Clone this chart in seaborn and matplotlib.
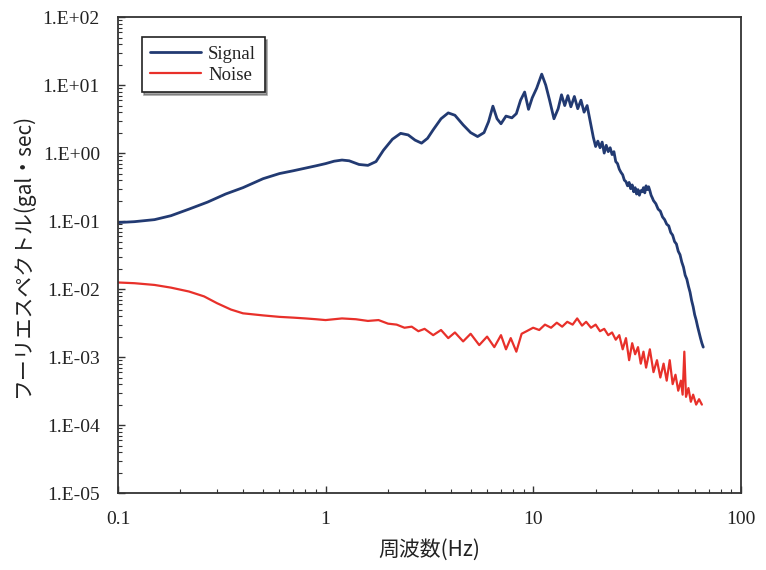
import numpy as np
import matplotlib
matplotlib.use("Agg")
import matplotlib.pyplot as plt
import pandas as pd
import seaborn as sns
from matplotlib.ticker import LogLocator, FixedLocator, FixedFormatter, NullFormatter

# Signal spectrum
signal_freq = [0.1, 0.12, 0.15, 0.18, 0.22, 0.27, 0.33, 0.4, 0.5, 0.6, 0.7, 0.8, 0.9, 1.0,
               1.1, 1.2, 1.3, 1.45, 1.6, 1.75, 1.9, 2.1, 2.3, 2.5, 2.7, 2.9, 3.1, 3.3, 3.6,
               3.9, 4.2, 4.6, 5.0, 5.4, 5.8, 6.1, 6.4, 6.7, 7.0, 7.4, 7.9, 8.3, 8.7, 9.1,
               9.5, 9.9, 10.4, 11.0, 11.5, 12.0, 12.6, 13.2, 13.7, 14.2, 14.7, 15.2, 15.8,
               16.4, 17.0, 17.6, 18.2, 18.8, 19.5, 20.0, 20.5, 21.0, 21.5, 22.0, 22.5, 23.0,
               23.5, 24.0, 24.5, 25.0, 25.5, 26.0, 26.5, 27.0, 27.5, 28.0, 28.5, 29.0, 29.5,
               30.0, 30.5, 31.0, 31.5, 32.0, 32.5, 33.0, 33.5, 34.0, 34.5, 35.0, 35.5, 36.0,
               36.5, 37.0, 37.5, 38.0, 39.0, 40.0, 41.0, 42.0, 43.0, 44.0, 45.0, 46.0, 47.0,
               48.0, 49.0, 50.0, 51.0, 52.0, 53.0, 54.0, 55.0, 56.0, 57.0, 58.0, 59.0, 60.0,
               61.0, 62.0, 63.0, 64.0, 65.0, 66.0]
signal_amp = [0.095, 0.098, 0.105, 0.12, 0.15, 0.19, 0.25, 0.31, 0.42, 0.5, 0.55, 0.6, 0.65, 0.7,
              0.76, 0.79, 0.77, 0.68, 0.66, 0.75, 1.1, 1.6, 1.95, 1.85, 1.55, 1.4, 1.65, 2.2, 3.2,
              3.9, 3.6, 2.6, 2.0, 1.75, 2.0, 2.9, 4.9, 3.2, 2.7, 3.5, 3.3, 3.8, 6.0, 7.9,
              4.4, 6.5, 9.0, 14.5, 10.0, 6.0, 3.2, 4.5, 7.2, 5.0, 7.0, 4.8, 6.8,
              4.5, 6.0, 4.0, 5.0, 3.0, 1.7, 1.25, 1.5, 1.2, 1.45, 1.0, 1.3, 1.05,
              1.2, 0.95, 1.05, 0.75, 0.7, 0.58, 0.52, 0.48, 0.4, 0.38, 0.33, 0.37, 0.30,
              0.34, 0.27, 0.31, 0.25, 0.29, 0.24, 0.28, 0.27, 0.31, 0.26, 0.33, 0.29, 0.32,
              0.28, 0.24, 0.22, 0.2, 0.18, 0.15, 0.14, 0.115, 0.105, 0.09, 0.085, 0.068, 0.062,
              0.05, 0.046, 0.036, 0.032, 0.025, 0.021, 0.016, 0.014, 0.011, 0.009, 0.0068, 0.0055, 0.0042,
              0.0035, 0.0028, 0.0023, 0.0019, 0.0016, 0.0014]

# Noise spectrum
noise_freq = [0.1, 0.12, 0.15, 0.18, 0.22, 0.26, 0.3, 0.35, 0.4, 0.5, 0.6, 0.7, 0.8, 0.9, 1.0,
              1.2, 1.4, 1.6, 1.8, 2.0, 2.2, 2.4, 2.6, 2.8, 3.0, 3.3, 3.6, 3.9, 4.2, 4.6, 5.0,
              5.5, 6.0, 6.5, 7.0, 7.4, 7.8, 8.3, 8.8, 9.3, 10.0, 10.7, 11.4, 12.2, 13.0, 13.8,
              14.6, 15.5, 16.3, 17.2, 18.0, 19.0, 20.0, 21.0, 22.0, 23.0, 24.0, 25.0, 26.0,
              27.0, 28.0, 29.0, 30.0, 31.0, 32.0, 33.0, 34.0, 35.0, 36.5, 38.0, 39.5, 41.0,
              42.5, 44.0, 45.5, 47.0, 48.5, 50.0, 51.5, 52.5, 53.5, 54.5, 56.0, 57.5, 59.0,
              61.0, 63.0, 65.0]
noise_amp = [0.0125, 0.0122, 0.0115, 0.0105, 0.0092, 0.0078, 0.0062, 0.0050, 0.0044, 0.0041,
             0.0039, 0.0038, 0.0037, 0.0036, 0.0035, 0.0037, 0.0036, 0.0034, 0.0035, 0.0031,
             0.0030, 0.0027, 0.0028, 0.0024, 0.0026, 0.0021, 0.0025, 0.0019, 0.0023, 0.0017,
             0.0022, 0.0015, 0.0020, 0.0014, 0.0021, 0.0013, 0.0019, 0.0012, 0.0022, 0.0024,
             0.0027, 0.0025, 0.0030, 0.0027, 0.0032, 0.0028, 0.0033, 0.0030, 0.0037, 0.0029,
             0.0033, 0.0027, 0.0030, 0.0024, 0.0026, 0.0021, 0.0023, 0.0018, 0.0021, 0.0013,
             0.0019, 0.0009, 0.0016, 0.0011, 0.0014, 0.0008, 0.0012, 0.0007, 0.0013, 0.0006,
             0.0009, 0.0005, 0.0008, 0.00045, 0.0009, 0.0004, 0.00055, 0.00032, 0.00045,
             0.00028, 0.0012, 0.00026, 0.00035, 0.00022, 0.00028, 0.0002, 0.00024, 0.0002]

y_ticks = [1e-5, 1e-4, 1e-3, 1e-2, 1e-1, 1e0, 1e1, 1e2]
y_tick_labels = ["1.E-05", "1.E-04", "1.E-03", "1.E-02", "1.E-01", "1.E+00", "1.E+01", "1.E+02"]
x_ticks = [0.1, 1, 10, 100]
x_tick_labels = ["0.1", "1", "10", "100"]

sig_df = pd.DataFrame({"freq": signal_freq, "amp": signal_amp})
noi_df = pd.DataFrame({"freq": noise_freq, "amp": noise_amp})

sns.set_style("ticks")
plt.rcParams["font.family"] = ["Noto Sans CJK JP", "DejaVu Sans"]

fig = plt.figure(figsize=(7.66, 5.70), dpi=100)
ax = fig.add_axes([0.154, 0.135, 0.813, 0.835])

sns.lineplot(data=sig_df, x="freq", y="amp", ax=ax, sort=False, estimator=None,
             color="#223a72", linewidth=2.0, label="Signal")
sns.lineplot(data=noi_df, x="freq", y="amp", ax=ax, sort=False, estimator=None,
             color="#e8302a", linewidth=1.6, label="Noise")

ax.set_xscale("log")
ax.set_yscale("log")
ax.set_xlim(0.1, 100)
ax.set_ylim(1e-5, 1e2)

ax.xaxis.set_major_locator(FixedLocator(x_ticks))
ax.xaxis.set_major_formatter(FixedFormatter(x_tick_labels))
ax.xaxis.set_minor_locator(LogLocator(base=10, subs=np.arange(2, 10), numticks=20))
ax.xaxis.set_minor_formatter(NullFormatter())
ax.yaxis.set_major_locator(FixedLocator(y_ticks))
ax.yaxis.set_major_formatter(FixedFormatter(y_tick_labels))
ax.yaxis.set_minor_locator(LogLocator(base=10, subs=np.arange(2, 10), numticks=20))
ax.yaxis.set_minor_formatter(NullFormatter())

ax.tick_params(axis="both", which="major", direction="in", length=5, width=1, pad=13, color="#333333")
ax.tick_params(axis="both", which="minor", direction="in", length=3, width=0.8, color="#333333")
for lab in ax.get_xticklabels() + ax.get_yticklabels():
    lab.set_fontfamily(["Liberation Serif", "DejaVu Serif"])
    lab.set_fontsize(14)
    lab.set_color("#222222")

for s in ax.spines.values():
    s.set_color("#333333")
    s.set_linewidth(1.3)

ax.set_xlabel("周波数(Hz)", fontsize=15, color="#222222", labelpad=8)
ax.set_ylabel("フーリエスペクトル(gal・sec)", fontsize=15, color="#222222", labelpad=6)

leg = ax.legend(loc="upper left", bbox_to_anchor=(0.038, 0.958), borderaxespad=0,
                frameon=True, fancybox=False, shadow=True, handlelength=2.7,
                labelspacing=0.2, borderpad=0.45, handletextpad=0.4,
                prop={"family": ["Liberation Serif", "DejaVu Serif"], "size": 13.5})
leg.get_frame().set_edgecolor("#222222")
leg.get_frame().set_linewidth(1.2)
leg.get_frame().set_alpha(1)
for t in leg.get_texts():
    t.set_color("#222222")

fig.savefig("out.png", dpi=100, facecolor="white")
